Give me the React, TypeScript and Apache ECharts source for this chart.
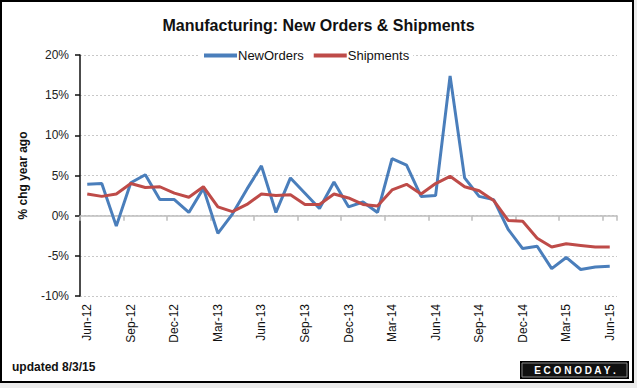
import React, { useEffect, useRef } from "react";
import * as echarts from "echarts";

const months = [
  "Jun-12","Jul-12","Aug-12","Sep-12","Oct-12","Nov-12","Dec-12",
  "Jan-13","Feb-13","Mar-13","Apr-13","May-13","Jun-13","Jul-13","Aug-13","Sep-13","Oct-13","Nov-13","Dec-13",
  "Jan-14","Feb-14","Mar-14","Apr-14","May-14","Jun-14","Jul-14","Aug-14","Sep-14","Oct-14","Nov-14","Dec-14",
  "Jan-15","Feb-15","Mar-15","Apr-15","May-15","Jun-15",
];

const newOrders = [
  3.9, 4.0, -1.3, 4.1, 5.1, 2.0, 2.0,
  0.4, 3.4, -2.2, 0.2, 3.3, 6.2, 0.4, 4.7, 2.8, 0.9, 4.2, 1.1,
  1.7, 0.4, 7.1, 6.3, 2.4, 2.5, 17.4, 4.7, 2.4, 2.0, -1.7, -4.1,
  -3.8, -6.6, -5.2, -6.7, -6.4, -6.3,
];

const shipments = [
  2.7, 2.4, 2.7, 4.0, 3.5, 3.6, 2.8,
  2.3, 3.6, 1.1, 0.5, 1.4, 2.7, 2.5, 2.6, 1.4, 1.4, 2.7, 2.2,
  1.4, 1.2, 3.2, 3.9, 2.7, 4.0, 4.9, 3.6, 3.1, 1.9, -0.6, -0.7,
  -2.8, -3.9, -3.5, -3.7, -3.9, -3.9,
];

const yTicks = { min: -10, max: 20, interval: 5 };

const FONT = "'Liberation Sans', Arial, sans-serif";

export default function App() {
  const ref = useRef<HTMLDivElement>(null);

  useEffect(() => {
    document.body.style.margin = "0";
    if (!ref.current) return;
    const chart = echarts.init(ref.current, null, { renderer: "svg" });
    chart.setOption({
      animation: false,
      backgroundColor: "transparent",
      textStyle: { fontFamily: FONT },
      title: {
        text: "Manufacturing: New Orders & Shipments",
        left: "center",
        top: 12,
        textStyle: { fontSize: 16, fontWeight: "bold", color: "#111", fontFamily: FONT },
      },
      legend: {
        left: 200,
        top: 47,
        backgroundColor: "#ffffff",
        padding: [2, 4, 2, 4],
        itemWidth: 33,
        itemHeight: 4,
        itemGap: 10,
        icon: "rect",
        textStyle: { fontSize: 13, color: "#111", fontFamily: FONT, padding: [0, 0, 0, -4] },
        data: ["NewOrders", "Shipments"],
      },
      grid: { left: 80, right: 20, top: 55, bottom: 92, containLabel: false },
      xAxis: [
        {
          type: "category",
          data: months,
          position: "bottom",
          boundaryGap: true,
          axisLine: { show: false, onZero: false },
          axisTick: { show: false },
          axisLabel: {
            interval: 2,
            rotate: 90,
            fontSize: 12,
            color: "#111",
            margin: 8,
            fontFamily: FONT,
          },
          splitLine: { show: false },
        },
        {
          type: "category",
          data: months,
          position: "bottom",
          boundaryGap: true,
          axisLine: { show: true, onZero: true, lineStyle: { color: "#bdbdbd", width: 1.5 } },
          axisTick: { show: true, interval: 2, length: 5, lineStyle: { color: "#bdbdbd", width: 1.5 } },
          axisLabel: { show: false },
          splitLine: { show: false },
        },
      ],
      yAxis: {
        type: "value",
        min: yTicks.min,
        max: yTicks.max,
        interval: yTicks.interval,
        name: "% chg year ago",
        nameLocation: "middle",
        nameGap: 51,
        nameRotate: 90,
        nameTextStyle: { fontSize: 12, fontWeight: "bold", color: "#111", fontFamily: FONT },
        axisLine: { show: true, lineStyle: { color: "#111", width: 1.5 } },
        axisTick: { show: true, length: 5, lineStyle: { color: "#111", width: 1.5 } },
        axisLabel: {
          formatter: "{value}%",
          fontSize: 12,
          color: "#222",
          margin: 11,
          fontFamily: FONT,
        },
        splitLine: { show: true, lineStyle: { color: "#c8c8c8", type: [2, 2], width: 1 } },
      },
      series: [
        {
          name: "NewOrders",
          type: "line",
          xAxisIndex: 0,
          data: newOrders,
          symbol: "none",
          color: "#4a7ebb",
          lineStyle: { width: 3, color: "#4a7ebb" },
          z: 3,
        },
        {
          name: "Shipments",
          type: "line",
          xAxisIndex: 0,
          data: shipments,
          symbol: "none",
          color: "#be4b48",
          lineStyle: { width: 3, color: "#be4b48" },
          z: 4,
        },
      ],
      graphic: [
        {
          type: "text",
          left: 12,
          top: 361,
          style: { text: "updated 8/3/15", fontSize: 12, fontWeight: "bold", fill: "#111", fontFamily: FONT },
        },
        {
          type: "group",
          left: 520,
          top: 361,
          children: [
            { type: "rect", shape: { x: 0, y: 0, width: 109, height: 18 }, style: { fill: "#000" } },
            { type: "rect", shape: { x: 2, y: 2, width: 105, height: 14 }, style: { fill: "#111", stroke: "#8a8a8a", lineWidth: 1 } },
            {
              type: "text",
              x: 55,
              y: 9,
              style: {
                text: "E C O N O D A Y .",
                fontSize: 10,
                fontWeight: "bold",
                fill: "#fff",
                align: "center",
                verticalAlign: "middle",
                fontFamily: FONT,
              },
            },
          ],
        },
      ],
    });
    return () => chart.dispose();
  }, []);

  return (
    <div style={{ position: "relative", width: 637, height: 388, background: "#ebebeb" }}>
      <div
        style={{
          position: "absolute",
          left: 0,
          top: 0,
          width: 634,
          height: 383,
          boxSizing: "border-box",
          border: "2px solid #000",
          background: "#fff",
        }}
      />
      <div ref={ref} style={{ position: "absolute", left: 0, top: 0, width: 637, height: 388 }} />
    </div>
  );
}
